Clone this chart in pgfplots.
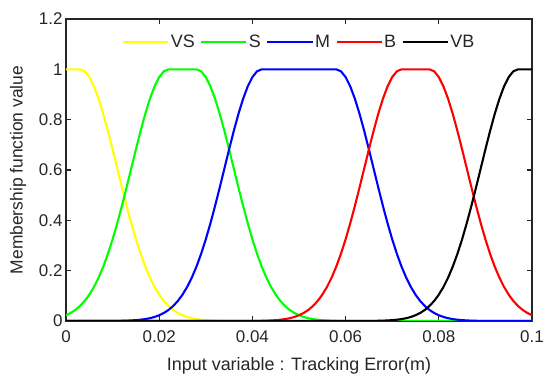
\documentclass[border=0pt]{standalone}
\usepackage{pgfplots}
\pgfplotsset{compat=1.18}
\usepackage{fontspec}
\setmainfont{Liberation Sans}
\definecolor{axgray}{RGB}{38,38,38}
\begin{document}
\begin{tikzpicture}
\begin{axis}[name=ax, scale only axis, width=466bp, height=302bp,
 xmin=0, xmax=0.1, ymin=0, ymax=1.2,
 xtick={0,0.02,0.04,0.06,0.08,0.1},
 xticklabels={0,0.02,0.04,0.06,0.08,0.1},
 ytick={0,0.2,0.4,0.6,0.8,1,1.2},
 yticklabels={0,0.2,0.4,0.6,0.8,1,1.2},
 tick align=inside, major tick length=5bp,
 axis line style={line width=1.6bp, draw=axgray},
 every tick/.style={draw=axgray, line width=1.2bp},
 tick label style={font=\fontsize{17}{17}\selectfont, text=axgray},
 xticklabel style={yshift=-6bp},
 xlabel={Input variable : Tracking Error(m)},
 ylabel={Membership function value},
 every axis x label/.style={at={([yshift=-45bp]rel axis cs:0.5,0)}, anchor=center, font=\fontsize{18}{18}\selectfont, text=axgray},
 every axis y label/.style={at={([xshift=-48bp]rel axis cs:0,0.5)}, anchor=center, rotate=90, font=\fontsize{17.5}{17.5}\selectfont, text=axgray},
 legend columns=5,
 legend style={at={(0.5,0.924)}, anchor=center, draw=none, fill=none,
   font=\fontsize{18}{18}\selectfont, text=axgray,
   nodes={inner sep=1.5bp},
   /tikz/every even column/.append style={column sep=4bp}},
 legend image code/.code={\draw[#1] (0cm,0cm) -- (1.59cm,0cm);},
 every axis plot/.append style={line width=2.1bp},
]
\addplot[color={rgb,1:red,1;green,1;blue,0}] coordinates {
(0,1) (0.003,1) (0.004,0.9922) (0.005,0.9692) (0.006,0.9321) (0.007,0.8825) (0.008,0.8226) (0.009,0.7548) (0.010,0.6819) (0.011,0.6065) (0.012,0.5311) (0.013,0.4578) (0.014,0.3886) (0.015,0.3247) (0.016,0.2671) (0.017,0.2163) (0.018,0.1724) (0.019,0.1353) (0.020,0.1046) (0.021,0.0796) (0.022,0.0596) (0.023,0.0439) (0.024,0.0319) (0.025,0.0228) (0.026,0.0160) (0.027,0.0111) (0.028,0.0076) (0.029,0.0051) (0.030,0.0034) (0.031,0.0022) (0.032,0.0014) (0.033,0.0009) (0.034,0) (0.1,0)
};
\addlegendentry{VS}
\addplot[color={rgb,1:red,0;green,1;blue,0}] coordinates {
(0,0.0228) (0.001,0.0319) (0.002,0.0439) (0.003,0.0596) (0.004,0.0796) (0.005,0.1046) (0.006,0.1353) (0.007,0.1724) (0.008,0.2163) (0.009,0.2671) (0.010,0.3247) (0.011,0.3886) (0.012,0.4578) (0.013,0.5311) (0.014,0.6065) (0.015,0.6819) (0.016,0.7548) (0.017,0.8226) (0.018,0.8825) (0.019,0.9321) (0.020,0.9692) (0.021,0.9922) (0.022,1) (0.028,1) (0.029,0.9922) (0.030,0.9692) (0.031,0.9321) (0.032,0.8825) (0.033,0.8226) (0.034,0.7548) (0.035,0.6819) (0.036,0.6065) (0.037,0.5311) (0.038,0.4578) (0.039,0.3886) (0.040,0.3247) (0.041,0.2671) (0.042,0.2163) (0.043,0.1724) (0.044,0.1353) (0.045,0.1046) (0.046,0.0796) (0.047,0.0596) (0.048,0.0439) (0.049,0.0319) (0.050,0.0228) (0.051,0.0160) (0.052,0.0111) (0.053,0.0076) (0.054,0.0051) (0.055,0.0034) (0.056,0.0022) (0.057,0.0014) (0.058,0.0009) (0.059,0) (0.1,0)
};
\addlegendentry{S}
\addplot[color={rgb,1:red,0;green,0;blue,1}] coordinates {
(0,0) (0.011,0) (0.012,0.0009) (0.013,0.0014) (0.014,0.0022) (0.015,0.0034) (0.016,0.0051) (0.017,0.0076) (0.018,0.0111) (0.019,0.0160) (0.020,0.0228) (0.021,0.0319) (0.022,0.0439) (0.023,0.0596) (0.024,0.0796) (0.025,0.1046) (0.026,0.1353) (0.027,0.1724) (0.028,0.2163) (0.029,0.2671) (0.030,0.3247) (0.031,0.3886) (0.032,0.4578) (0.033,0.5311) (0.034,0.6065) (0.035,0.6819) (0.036,0.7548) (0.037,0.8226) (0.038,0.8825) (0.039,0.9321) (0.040,0.9692) (0.041,0.9922) (0.042,1) (0.058,1) (0.059,0.9922) (0.060,0.9692) (0.061,0.9321) (0.062,0.8825) (0.063,0.8226) (0.064,0.7548) (0.065,0.6819) (0.066,0.6065) (0.067,0.5311) (0.068,0.4578) (0.069,0.3886) (0.070,0.3247) (0.071,0.2671) (0.072,0.2163) (0.073,0.1724) (0.074,0.1353) (0.075,0.1046) (0.076,0.0796) (0.077,0.0596) (0.078,0.0439) (0.079,0.0319) (0.080,0.0228) (0.081,0.0160) (0.082,0.0111) (0.083,0.0076) (0.084,0.0051) (0.085,0.0034) (0.086,0.0022) (0.087,0.0014) (0.088,0.0009) (0.089,0) (0.1,0)
};
\addlegendentry{M}
\addplot[color={rgb,1:red,1;green,0;blue,0}] coordinates {
(0,0) (0.041,0) (0.042,0.0009) (0.043,0.0014) (0.044,0.0022) (0.045,0.0034) (0.046,0.0051) (0.047,0.0076) (0.048,0.0111) (0.049,0.0160) (0.050,0.0228) (0.051,0.0319) (0.052,0.0439) (0.053,0.0596) (0.054,0.0796) (0.055,0.1046) (0.056,0.1353) (0.057,0.1724) (0.058,0.2163) (0.059,0.2671) (0.060,0.3247) (0.061,0.3886) (0.062,0.4578) (0.063,0.5311) (0.064,0.6065) (0.065,0.6819) (0.066,0.7548) (0.067,0.8226) (0.068,0.8825) (0.069,0.9321) (0.070,0.9692) (0.071,0.9922) (0.072,1) (0.078,1) (0.079,0.9922) (0.080,0.9692) (0.081,0.9321) (0.082,0.8825) (0.083,0.8226) (0.084,0.7548) (0.085,0.6819) (0.086,0.6065) (0.087,0.5311) (0.088,0.4578) (0.089,0.3886) (0.090,0.3247) (0.091,0.2671) (0.092,0.2163) (0.093,0.1724) (0.094,0.1353) (0.095,0.1046) (0.096,0.0796) (0.097,0.0596) (0.098,0.0439) (0.099,0.0319) (0.100,0.0228)
};
\addlegendentry{B}
\addplot[color=black] coordinates {
(0,0) (0.066,0) (0.067,0.0009) (0.068,0.0014) (0.069,0.0022) (0.070,0.0034) (0.071,0.0051) (0.072,0.0076) (0.073,0.0111) (0.074,0.0160) (0.075,0.0228) (0.076,0.0319) (0.077,0.0439) (0.078,0.0596) (0.079,0.0796) (0.080,0.1046) (0.081,0.1353) (0.082,0.1724) (0.083,0.2163) (0.084,0.2671) (0.085,0.3247) (0.086,0.3886) (0.087,0.4578) (0.088,0.5311) (0.089,0.6065) (0.090,0.6819) (0.091,0.7548) (0.092,0.8226) (0.093,0.8825) (0.094,0.9321) (0.095,0.9692) (0.096,0.9922) (0.097,1) (0.1,1)
};
\addlegendentry{VB}
\end{axis}
\pgfresetboundingbox
\path ([xshift=-66bp,yshift=-55bp]ax.south west) rectangle ([xshift=12bp,yshift=19bp]ax.north east);
\end{tikzpicture}
\end{document}
